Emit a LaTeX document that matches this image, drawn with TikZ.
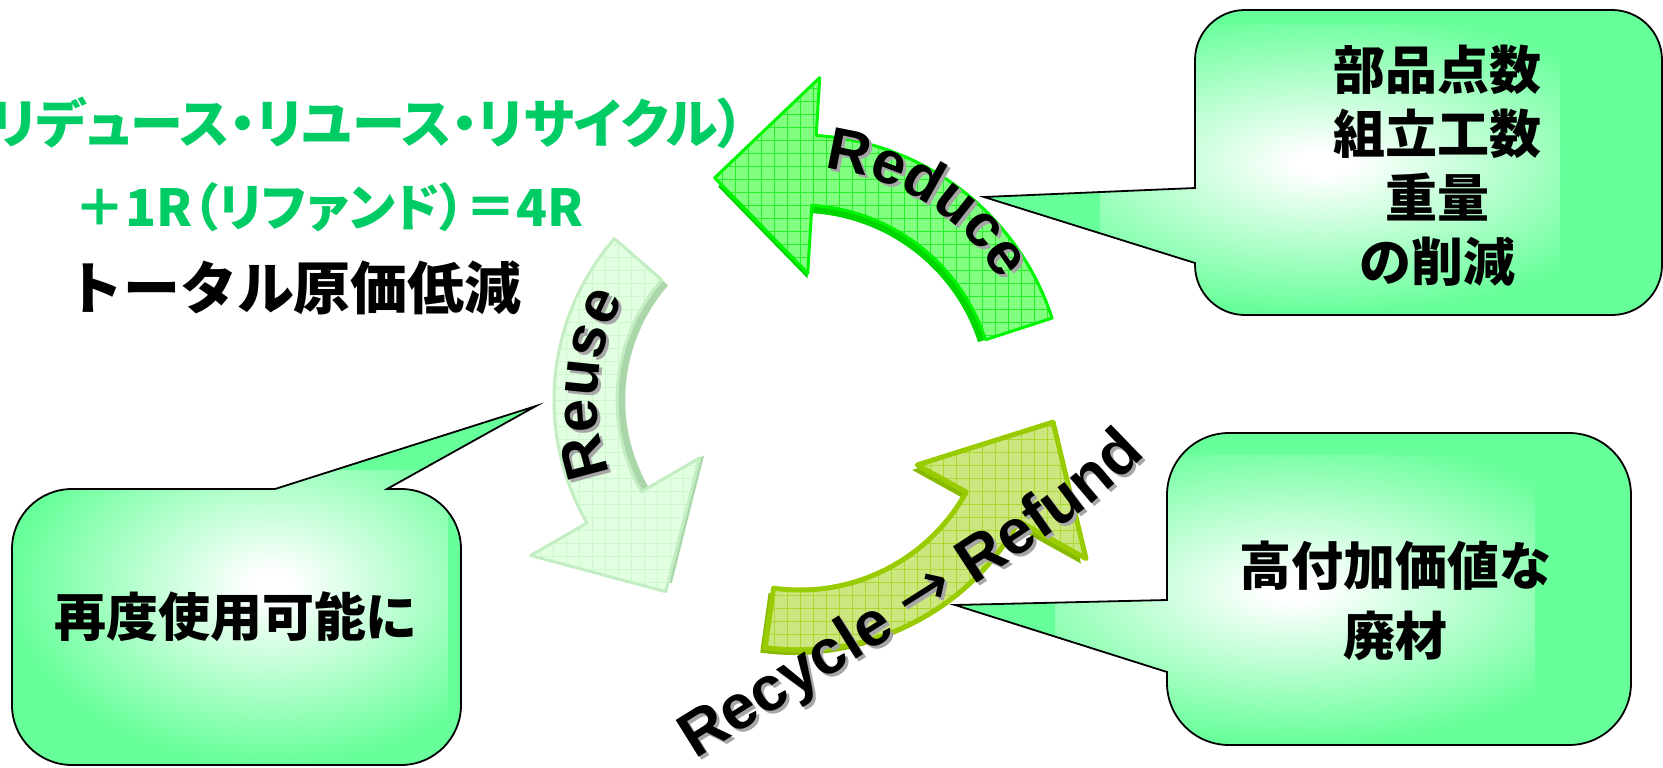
\documentclass[tikz,border=0pt]{standalone}
\usepackage{fontspec}
\usetikzlibrary{decorations.text}
\newfontfamily\jpfont{Noto Sans CJK JP}
\newfontfamily\jppfont{Noto Sans CJK JP}[RawFeature=+palt]
\newfontfamily\lsfont{Liberation Sans}
\newfontfamily\djfont{DejaVu Sans}
\definecolor{jgreen}{RGB}{0,204,102}
\definecolor{bubgreen}{RGB}{102,255,153}
\definecolor{rdface}{RGB}{128,255,128}
\definecolor{rdedge}{RGB}{0,245,0}
\definecolor{rdside}{RGB}{0,215,0}
\definecolor{rdgrid}{RGB}{40,240,40}
\definecolor{ruface}{RGB}{226,255,226}
\definecolor{ruedge}{RGB}{195,238,195}
\definecolor{ruside}{RGB}{170,214,170}
\definecolor{rugrid}{RGB}{205,247,205}
\definecolor{rcface}{RGB}{204,230,128}
\definecolor{rcedge}{RGB}{153,204,0}
\definecolor{rcside}{RGB}{136,187,0}
\definecolor{rcgrid}{RGB}{175,215,50}
\pgfdeclareradialshading{bubshade}{\pgfpoint{0bp}{0bp}}{color(0bp)=(white); color(2bp)=(white); color(25bp)=(bubgreen); color(50bp)=(bubgreen)}

\def\pReduce{(-18:195) -- (-18:265) arc[start angle=-18, end angle=-86.5, radius=265] -- (-86.5:323) -- (-111:238) -- (-86.5:127) -- (-86.5:195) arc[start angle=-86.5, end angle=-18, radius=195] -- cycle}
\def\pReuse{(221:183) -- (221:246) arc[start angle=221, end angle=150, radius=246] -- (150:311) -- (125:234) -- (150:116) -- (150:183) arc[start angle=150, end angle=221, radius=183] -- cycle}
\def\pRecycle{(98:250) -- (98:190) arc[start angle=98, end angle=29, radius=190] -- (29:134) -- (5:254) -- (29:327) -- (29:250) arc[start angle=29, end angle=98, radius=250] -- cycle}

\tikzset{
  bubble/.style={draw=black, line width=1.8pt, fill=bubgreen, line join=miter},
  greenline/.style={inner sep=0pt, text=jgreen, font=\jppfont\bfseries\fontsize{51}{51}\selectfont},
  titleline/.style={inner sep=0pt, text=black, font=\jpfont\bfseries\fontsize{57}{57}\selectfont},
  bubtext/.style={inner sep=0pt, text=black, align=center, font=\jpfont\bfseries\fontsize{52}{64}\selectfont},
  gridpic/.style={path picture={\draw[#1, line width=0.7pt, step=13pt] (path picture bounding box.south west) grid (path picture bounding box.north east);}},
  rdbody/.style={fill=rdface, draw=rdedge, line width=3pt, line join=round, gridpic=rdgrid},
  rubody/.style={fill=ruface, draw=ruedge, line width=3pt, line join=round, gridpic=rugrid},
  rcbody/.style={fill=rcface, draw=rcedge, line width=5pt, line join=round, gridpic=rcgrid},
  arrowlabel/.style 2 args={decorate, decoration={text along path, text={|\lsfont\bfseries\fontsize{60}{60}\selectfont|#1}, text color=#2}},
  recyclelabel/.style={decorate, decoration={text along path, text={|\lsfont\bfseries\fontsize{63}{63}\selectfont|Recycle |\djfont\fontsize{66}{66}\selectfont|→|\lsfont\bfseries\fontsize{63}{63}\selectfont| Refund}, text color=#1}},
}

\begin{document}
\begin{tikzpicture}[x=1pt, y=-1pt]
\useasboundingbox (0,0) rectangle (1663,768);

% curved arrows
\begin{scope}[shift={(800,400)}]
  \path[fill=ruside, scale=0.955] \pReuse;
  \path[rubody] \pReuse;
  \path[fill=rdside, scale=0.96] \pReduce;
  \path[rdbody] \pReduce;
  \path[fill=rcside, shift={(-5,5)}] \pRecycle;
  \path[rcbody] \pRecycle;
\end{scope}

% headline texts
\node[greenline, font=\jppfont\bfseries\fontsize{53}{53}\selectfont, anchor=east] (l1) at (745,123) {リデュース・リユース・リサイクル）};
\node[greenline] (l2) at (329,207) {＋1R（リファンド）＝4R};
\node[titleline] (l3) at (294,288) {トータル原価低減};

% callout A (Reduce)
\path[bubble, path picture={\shade[shading=bubshade] (1100,25) rectangle (1560,305);}]
  (1195,188) -- (984,197) -- (1195,263) -- (1195,265)
  arc[start angle=180, end angle=90, radius=50] -- (1612,315)
  arc[start angle=90, end angle=0, radius=50] -- (1662,60)
  arc[start angle=0, end angle=-90, radius=50] -- (1245,10)
  arc[start angle=-90, end angle=-180, radius=50] -- cycle;
\node[bubtext] (ta) at (1437,166) {部品点数\\組立工数\\重量\\の削減};

% callout B (Reuse)
\path[bubble, path picture={\shade[shading=bubshade] (8,470) rectangle (448,760);}]
  (387,489) -- (401,489)
  arc[start angle=-90, end angle=0, radius=60] -- (461,705)
  arc[start angle=0, end angle=90, radius=60] -- (72,765)
  arc[start angle=90, end angle=180, radius=60] -- (12,549)
  arc[start angle=180, end angle=270, radius=60] -- (275,489) -- (536,406) -- cycle;
\node[bubtext] (tb) at (236,617) {再度使用可能に};

% callout C (Recycle)
\path[bubble, path picture={\shade[shading=bubshade] (1055,455) rectangle (1535,745);}]
  (1167,672) -- (1167,683)
  arc[start angle=180, end angle=90, radius=62] -- (1569,745)
  arc[start angle=90, end angle=0, radius=62] -- (1631,495)
  arc[start angle=0, end angle=-90, radius=62] -- (1229,433)
  arc[start angle=-90, end angle=-180, radius=62] -- (1167,600) -- (955,605) -- cycle;
\node[bubtext, font=\jpfont\bfseries\fontsize{52}{70}\selectfont] (tc) at (1395,601) {高付加価値な\\廃材};

% arrow labels with shadow
\begin{scope}[shift={(800,400)}]
  \path[arrowlabel={Reduce}{black!35}, shift={(3,3)}] (-84:233) arc[start angle=-84, end angle=-5, radius=233];
  \path[arrowlabel={Reduce}{black}] (-84:233) arc[start angle=-84, end angle=-5, radius=233];
  \path[arrowlabel={Reuse}{black!35}, shift={(3,3)}] (159:203) arc[start angle=159, end angle=235, radius=203];
  \path[arrowlabel={Reuse}{black}] (159:203) arc[start angle=159, end angle=235, radius=203];
\end{scope}
\path[recyclelabel=black!35, shift={(3,3)}] (695,760) .. controls (1080,520) .. (1160,440) -- (1240,360);
\path[recyclelabel=black] (695,760) .. controls (1080,520) .. (1160,440) -- (1240,360);
\end{tikzpicture}
\end{document}
